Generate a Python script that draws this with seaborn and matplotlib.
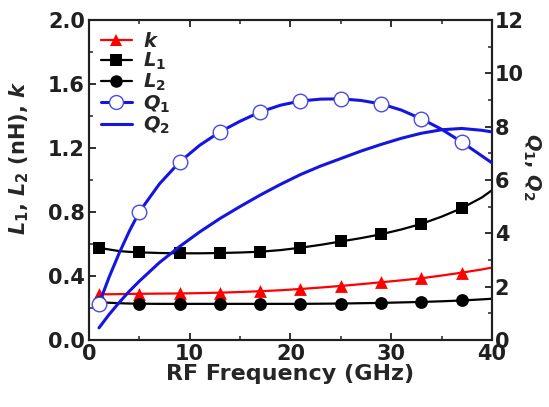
#!/usr/bin/env python3
"""Coupled inductor parameters (L1, L2, k) and quality factors (Q1, Q2) vs RF frequency."""
import matplotlib
matplotlib.use("Agg")
import matplotlib.pyplot as plt
from matplotlib.lines import Line2D
from matplotlib.ticker import MultipleLocator, FormatStrFormatter
import seaborn as sns

# dense curve samples (GHz)
FREQ_LINE = [1, 2, 3, 4, 5, 7, 9, 11, 13, 15, 17, 19, 21, 23, 25, 27, 29, 31, 33, 35, 37, 39, 40]
L1_LINE = [0.575, 0.565, 0.555, 0.550, 0.547, 0.543, 0.541, 0.541, 0.543, 0.546, 0.551, 0.561,
           0.576, 0.594, 0.615, 0.636, 0.660, 0.690, 0.725, 0.770, 0.823, 0.890, 0.935]
L2_LINE = [0.235, 0.232, 0.229, 0.227, 0.226, 0.225, 0.225, 0.225, 0.225, 0.225, 0.225, 0.225,
           0.225, 0.226, 0.227, 0.229, 0.231, 0.234, 0.237, 0.241, 0.246, 0.253, 0.257]
K_LINE = [0.285, 0.285, 0.286, 0.287, 0.288, 0.289, 0.290, 0.292, 0.295, 0.299, 0.304, 0.310,
          0.318, 0.327, 0.337, 0.348, 0.360, 0.372, 0.385, 0.402, 0.420, 0.440, 0.452]
Q1_LINE = [1.35, 2.35, 3.25, 4.07, 4.80, 5.85, 6.67, 7.30, 7.80, 8.20, 8.55, 8.80,
           8.96, 9.03, 9.04, 8.98, 8.85, 8.62, 8.29, 7.90, 7.42, 6.90, 6.64]
Q2_LINE = [0.45, 0.95, 1.40, 1.82, 2.20, 2.90, 3.50, 4.05, 4.55, 5.00, 5.43, 5.83,
           6.20, 6.52, 6.80, 7.08, 7.33, 7.56, 7.75, 7.88, 7.93, 7.86, 7.80]

# measured points (GHz)
FREQ_PTS = [1, 5, 9, 13, 17, 21, 25, 29, 33, 37]
L1_PTS = [0.575, 0.547, 0.541, 0.543, 0.551, 0.576, 0.615, 0.660, 0.725, 0.823]
L2_PTS = [0.235, 0.226, 0.225, 0.225, 0.225, 0.225, 0.227, 0.231, 0.237, 0.246]
K_PTS = [0.285, 0.288, 0.290, 0.295, 0.304, 0.318, 0.337, 0.360, 0.385, 0.420]
Q1_PTS = [1.35, 4.80, 6.67, 7.80, 8.55, 8.96, 9.04, 8.85, 8.29, 7.42]

sns.set_theme(style="ticks")
plt.rcParams["font.family"] = ["DejaVu Sans"]
plt.rcParams["font.weight"] = "bold"
plt.rcParams["mathtext.fontset"] = "custom"
plt.rcParams["mathtext.it"] = "DejaVu Sans:italic:bold"
plt.rcParams["mathtext.rm"] = "DejaVu Sans:bold"
plt.rcParams["mathtext.bf"] = "DejaVu Sans:bold"

RED = "#ff0000"
BLACK = "#000000"
BLUE = "#1515e0"

fig = plt.figure(figsize=(5.49, 4.07), dpi=100)
ax = fig.add_axes([0.162, 0.165, 0.734, 0.786])
ax2 = ax.twinx()

lw = 1.6
sns.lineplot(x=FREQ_LINE, y=K_LINE, ax=ax, color=RED, linewidth=lw, zorder=3)
sns.lineplot(x=FREQ_LINE, y=L1_LINE, ax=ax, color=BLACK, linewidth=lw, zorder=3)
sns.lineplot(x=FREQ_LINE, y=L2_LINE, ax=ax, color=BLACK, linewidth=lw, zorder=3)
sns.scatterplot(x=FREQ_PTS, y=K_PTS, ax=ax, color=RED, marker="^", s=85,
                linewidth=0, zorder=4)
sns.scatterplot(x=FREQ_PTS, y=L1_PTS, ax=ax, color=BLACK, marker="s", s=70,
                linewidth=0, zorder=4)
sns.scatterplot(x=FREQ_PTS, y=L2_PTS, ax=ax, color=BLACK, marker="o", s=85,
                linewidth=0, zorder=4)

sns.lineplot(x=FREQ_LINE, y=Q1_LINE, ax=ax2, color=BLUE, linewidth=2.2, zorder=3)
sns.lineplot(x=FREQ_LINE, y=Q2_LINE, ax=ax2, color=BLUE, linewidth=2.2, zorder=3)
sns.scatterplot(x=FREQ_PTS, y=Q1_PTS, ax=ax2, marker="o", s=110, facecolor="white",
                edgecolor="#4a4ae6", linewidth=1.0, zorder=4)

ax.set_xlim(0, 40)
ax.set_ylim(0, 2.0)
ax2.set_ylim(0, 12)
ax.xaxis.set_major_locator(MultipleLocator(10))
ax.xaxis.set_minor_locator(MultipleLocator(5))
ax.yaxis.set_major_locator(MultipleLocator(0.4))
ax.yaxis.set_minor_locator(MultipleLocator(0.2))
ax.yaxis.set_major_formatter(FormatStrFormatter("%.1f"))
ax2.yaxis.set_major_locator(MultipleLocator(2))
ax2.yaxis.set_minor_locator(MultipleLocator(1))

for a in (ax, ax2):
    for s in a.spines.values():
        s.set_linewidth(1.5)
        s.set_color("#202020")
    a.tick_params(which="major", direction="in", length=5, width=1.3, labelsize=15,
                  colors="#202020", pad=3)
    a.tick_params(which="minor", direction="in", length=3, width=1.1)
    for lab in a.get_xticklabels() + a.get_yticklabels():
        lab.set_fontweight("bold")
ax.tick_params(axis="x", which="both", top=True)
ax.tick_params(axis="y", which="both", right=False)
ax2.tick_params(axis="y", pad=2)
ax.grid(False)
ax2.grid(False)

ax.set_xlabel("RF Frequency (GHz)", fontsize=16, fontweight="bold", labelpad=0)
ax.set_ylabel(r"$L_1$, $L_2$ (nH), $k$", fontsize=15, fontweight="bold")
ax.yaxis.set_label_coords(-0.145, 0.57)
ax2.set_ylabel(r"$Q_1$, $Q_2$", fontsize=14, fontweight="bold", rotation=270)
ax2.yaxis.set_label_coords(1.125, 0.54)

handles = [
    Line2D([0], [0], color=RED, lw=lw, marker="^", markersize=9, markeredgewidth=0),
    Line2D([0], [0], color=BLACK, lw=lw, marker="s", markersize=8, markeredgewidth=0),
    Line2D([0], [0], color=BLACK, lw=lw, marker="o", markersize=9, markeredgewidth=0),
    Line2D([0], [0], color=BLUE, lw=2.2, marker="o", markersize=10,
           markerfacecolor="white", markeredgecolor="#4a4ae6", markeredgewidth=1.0),
    Line2D([0], [0], color=BLUE, lw=2.2),
]
labels = [r"$k$", r"$L_1$", r"$L_2$", r"$Q_1$", r"$Q_2$"]
ax.legend(handles, labels, loc="upper left", frameon=False, fontsize=14,
          handlelength=1.6, handletextpad=0.6, labelspacing=0.0,
          borderaxespad=0.2, bbox_to_anchor=(0.0, 1.0))

fig.savefig("out.png", dpi=100)
plt.close(fig)
